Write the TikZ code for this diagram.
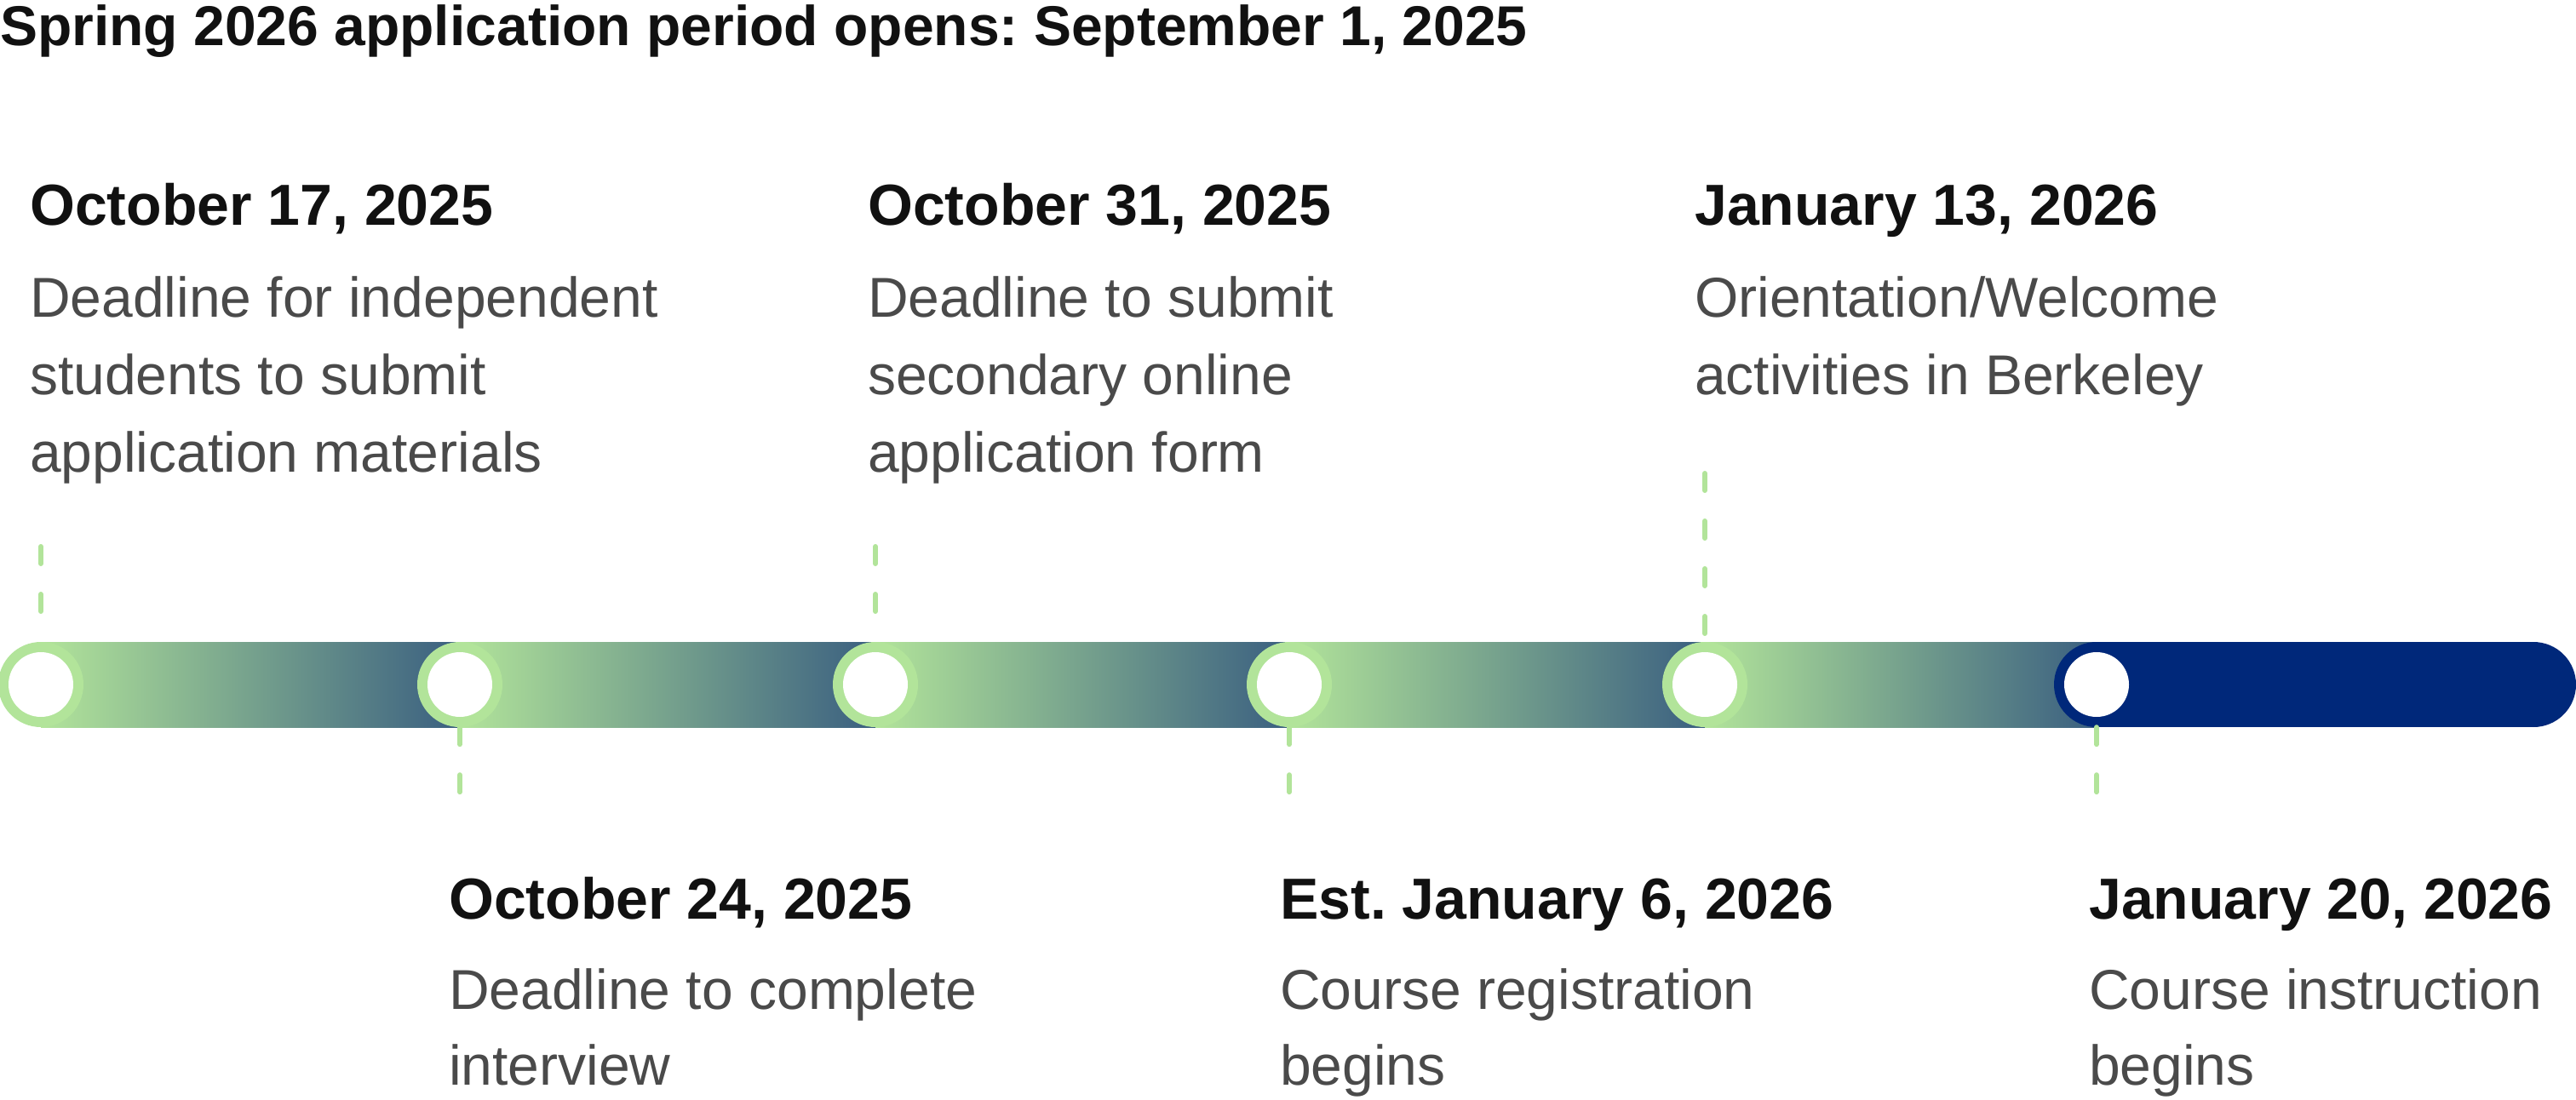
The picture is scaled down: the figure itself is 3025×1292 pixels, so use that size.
\documentclass[tikz,border=0pt]{standalone}
\usepackage{fontspec}
\setmainfont{Liberation Sans}
\frenchspacing
\definecolor{lgreen}{HTML}{B2E49A}
\definecolor{segteal}{HTML}{3A5F80}
\definecolor{navy}{HTML}{00287A}
\definecolor{bodygray}{HTML}{4A4A4A}
\definecolor{ink}{HTML}{111111}
\tikzset{
  seg/.style={left color=lgreen,right color=segteal},
  ring/.style={circle,fill=lgreen,minimum size=100pt,inner sep=0},
  hole/.style={circle,fill=white,minimum size=76pt,inner sep=0},
  tick/.style={lgreen,line width=6pt,line cap=round,dash pattern=on 20pt off 36pt},
  datetxt/.style={anchor=base west,inner sep=0,font=\fontsize{68}{80}\selectfont\bfseries,text=ink},
  bodytxt/.style={anchor=base west,inner sep=0,font=\fontsize{66}{80}\selectfont,text=bodygray},
}
\begin{document}
\begin{tikzpicture}[x=1pt,y=-1pt]
\useasboundingbox (0,0) rectangle (3025,1292);
\node[anchor=base west,inner sep=0,font=\fontsize{66}{78}\selectfont\bfseries,text=ink] (title) at (0,54) {Spring 2026 application period opens: September 1, 2025};
\foreach \a/\b in {48/540,540/1028,1028/1514,1514/2002,2002/2462}{
  \fill[seg] (\a,754) rectangle (\b,854);
}
\fill[navy] (2462,754) rectangle (2975,854);
\fill[navy] (2975,804) circle (50);
\coordinate (t1) at (48,642);
\coordinate (t3) at (1028,642);
\coordinate (t5) at (2002,556);
\coordinate (b2) at (540,966);
\coordinate (b4) at (1514,966);
\coordinate (b6) at (2462,966);
\node[ring] (c1) at (48,804) {};
\node[ring] (c2) at (540,804) {};
\node[ring] (c3) at (1028,804) {};
\node[ring] (c4) at (1514,804) {};
\node[ring] (c5) at (2002,804) {};
\node[ring,fill=navy] (c6) at (2462,804) {};
\draw[tick] (t1) -- (c1.north);
\draw[tick] (t3) -- (c3.north);
\draw[tick] (t5) -- (c5.north);
\draw[tick] (c2.south) -- (b2);
\draw[tick] (c4.south) -- (b4);
\draw[tick] (c6.south) -- (b6);
\foreach \n in {1,...,6}{ \node[hole] (h\n) at (c\n) {}; }
\node[datetxt] (d1) at (35,264) {October 17, 2025};
\node[bodytxt] (d1a) at (35,372) {Deadline for independent};
\node[bodytxt] (d1b) at (35,463) {students to submit};
\node[bodytxt] (d1c) at (35,554) {application materials};
\node[datetxt] (d3) at (1019,264) {October 31, 2025};
\node[bodytxt] (d3a) at (1019,372) {Deadline to submit};
\node[bodytxt] (d3b) at (1019,463) {secondary online};
\node[bodytxt] (d3c) at (1019,554) {application form};
\node[datetxt] (d5) at (1990,264) {January 13, 2026};
\node[bodytxt] (d5a) at (1990,372) {Orientation/Welcome};
\node[bodytxt] (d5b) at (1990,463) {activities in Berkeley};
\node[datetxt] (d2) at (527,1079) {October 24, 2025};
\node[bodytxt] (d2a) at (527,1185) {Deadline to complete};
\node[bodytxt] (d2b) at (527,1274) {interview};
\node[datetxt] (d4) at (1503,1079) {Est. January 6, 2026};
\node[bodytxt] (d4a) at (1503,1185) {Course registration};
\node[bodytxt] (d4b) at (1503,1274) {begins};
\node[datetxt] (d6) at (2453,1079) {January 20, 2026};
\node[bodytxt] (d6a) at (2453,1185) {Course instruction};
\node[bodytxt] (d6b) at (2453,1274) {begins};
\end{tikzpicture}
\end{document}
